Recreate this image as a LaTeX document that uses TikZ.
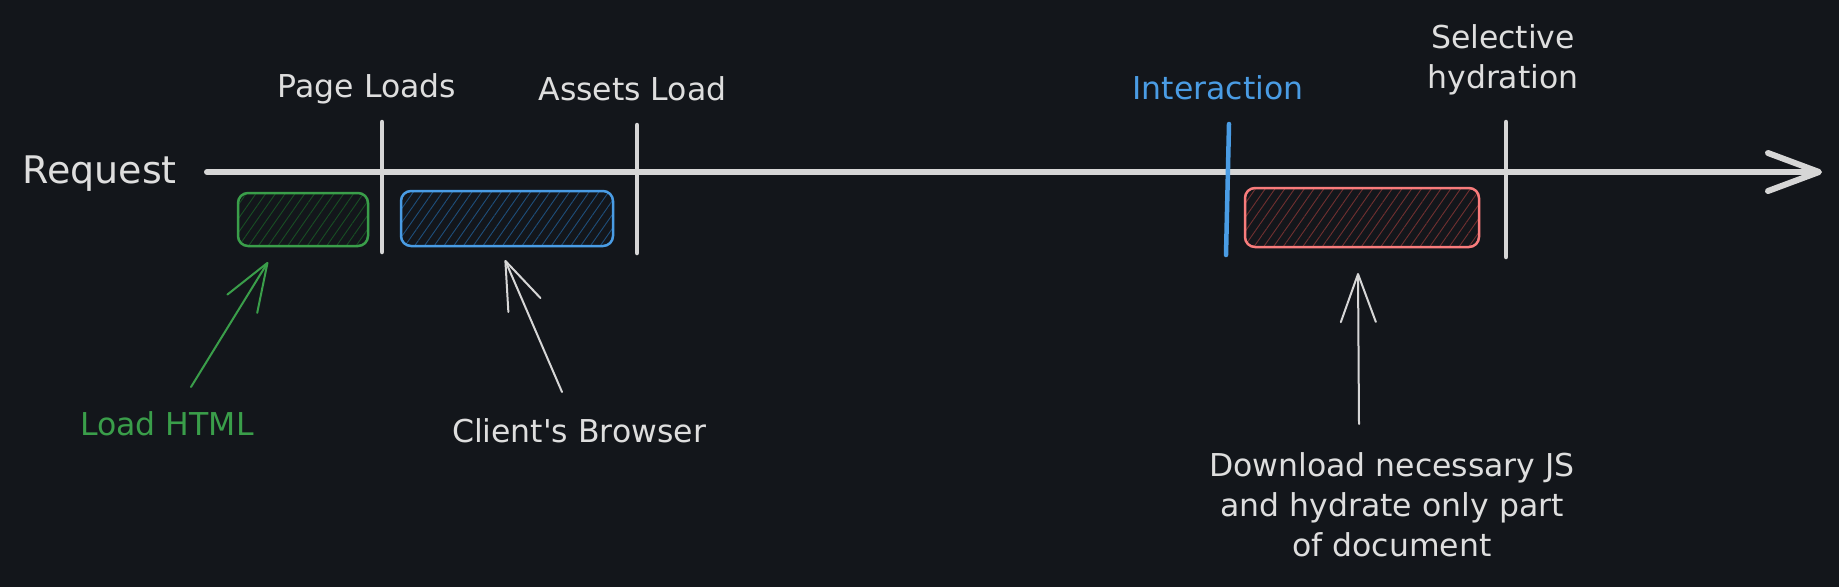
\documentclass[tikz,border=0pt]{standalone}
\usepackage{fontspec}
\setmainfont{DejaVu Sans}
\usetikzlibrary{arrows.meta,patterns.meta}
\definecolor{bg}{RGB}{19,22,27}
\definecolor{ink}{RGB}{214,214,214}
\definecolor{txt}{RGB}{222,222,222}
\definecolor{grn}{RGB}{58,158,74}
\definecolor{grnh}{RGB}{24,78,36}
\definecolor{blu}{RGB}{74,156,228}
\definecolor{bluh}{RGB}{30,78,122}
\definecolor{red}{RGB}{248,124,124}
\definecolor{redh}{RGB}{112,48,48}
\tikzset{
  lbl/.style={inner sep=0pt, anchor=base, text=txt, font=\fontsize{31.5}{40}\selectfont},
  tick/.style={draw=ink, line width=4.5pt, line cap=round},
  hbox/.style={draw=#1, line width=2.5pt, rounded corners=10pt, inner sep=0pt},
  ptr/.style={draw=#1, line width=2pt, line cap=round, -{Straight Barb[length=48pt,width=35pt,round]}},
  axis/.style={draw=ink, line width=6pt, line cap=round, -{Straight Barb[length=51pt,width=38pt,round]}}
}
\begin{document}
\begin{tikzpicture}[x=1pt,y=-1pt]
\fill[bg] (0,0) rectangle (1839,587);
\useasboundingbox (0,0) rectangle (1839,587);

% axis
\node[lbl, font=\fontsize{38}{40}\selectfont] (req) at (99.5,183) {Request};
\coordinate (a0) at (207,172);
\coordinate (a1) at (1822,172);
\draw[axis] (a0) -- (a1);

% ticks
\coordinate (t1a) at (382,122); \coordinate (t1b) at (382,252);
\coordinate (t2a) at (637,125); \coordinate (t2b) at (637,253);
\coordinate (t3a) at (1229,124); \coordinate (t3b) at (1226,255);
\coordinate (t4a) at (1506,122); \coordinate (t4b) at (1506,257);
\draw[tick] (t1a) -- (t1b);
\draw[tick] (t2a) -- (t2b);
\draw[tick, draw=blu] (t3a) -- (t3b);
\draw[tick] (t4a) -- (t4b);

% top labels
\node[lbl] (pl) at (367,97) {Page Loads};
\node[lbl] (al) at (632.5,100) {Assets Load};
\node[lbl, text=blu] (ia) at (1218,99) {Interaction};
\node[lbl, align=center] (sh) at (1503,88) {Selective\\hydration};

% boxes
\node[hbox=grn, pattern={Lines[angle=55,distance=8pt,line width=0.9pt]}, pattern color=grnh,
      minimum width=130pt, minimum height=53pt] (html) at (303,219.5) {};
\node[hbox=blu, pattern={Lines[angle=55,distance=8pt,line width=0.9pt]}, pattern color=bluh,
      minimum width=212pt, minimum height=55pt] (cb) at (507,218.5) {};
\node[hbox=red, pattern={Lines[angle=55,distance=8pt,line width=0.9pt]}, pattern color=redh,
      minimum width=234pt, minimum height=59pt] (js) at (1362,217.5) {};

% bottom labels
\node[lbl, text=grn] (lhtml) at (167,435) {Load HTML};
\node[lbl] (lcb) at (579,442) {Client\textquotesingle s Browser};
\node[lbl, align=center] (ljs) at (1392,556) {Download necessary JS\\and hydrate only part\\of document};

% pointers
\coordinate (g0) at (191,387); \coordinate (g1) at (268,262);
\coordinate (c0) at (562,392); \coordinate (c1) at (505,260);
\coordinate (d0) at (1359,424); \coordinate (d1) at (1358,273);
\draw[ptr=grn] (g0) -- (g1);
\draw[ptr=ink] (c0) -- (c1);
\draw[ptr=ink] (d0) -- (d1);
\end{tikzpicture}
\end{document}
